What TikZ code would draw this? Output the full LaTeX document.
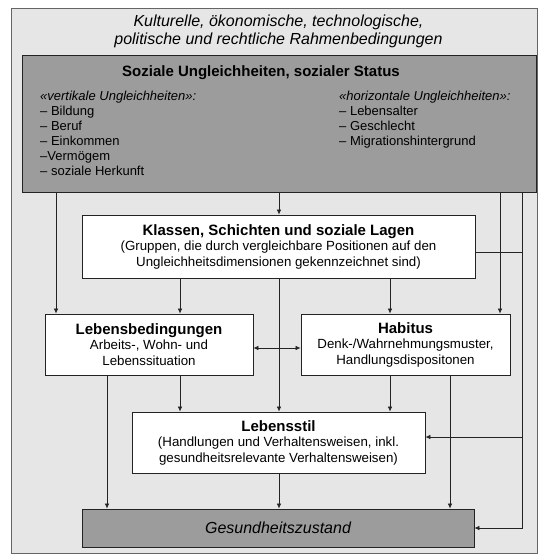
\documentclass[tikz,border=0pt]{standalone}
\usepackage{fontspec}
\setmainfont{Liberation Sans}
\usetikzlibrary{arrows.meta}
\definecolor{bgc}{RGB}{230,230,230}
\definecolor{dkc}{RGB}{156,156,156}
\definecolor{lnc}{RGB}{35,35,35}
\begin{document}
\begin{tikzpicture}[x=1pt,y=-1pt,
  frame/.style={draw=lnc!70, line width=0.8pt, fill=bgc, inner sep=0pt},
  box/.style={draw=lnc, line width=0.8pt, fill=white, align=center, inner sep=0pt,
    font=\fontsize{13.3}{15.5}\selectfont},
  boxtitle/.style={},
  darkbox/.style={draw=lnc, line width=0.8pt, fill=dkc, inner sep=0pt},
  wire/.style={draw=lnc, line width=0.75pt},
  arr/.style={wire, -{Latex[length=5pt,width=4.5pt]}},
  arrtwo/.style={wire, {Latex[length=5pt,width=4.5pt]}-{Latex[length=5pt,width=4.5pt]}},
  col/.style={anchor=north west, align=left, inner sep=0pt, font=\fontsize{13}{15}\selectfont}
]
\useasboundingbox (0,0) rectangle (539,557);

% frame and title
\node[frame, minimum width=526pt, minimum height=545pt] (frm) at (274,280.5) {};
\node[align=center, inner sep=0pt, font=\itshape\fontsize{16}{18}\selectfont] (ttl) at (278.5,31)
  {Kulturelle, ökonomische, technologische,\\politische und rechtliche Rahmenbedingungen};

% top box
\node[darkbox, minimum width=514pt, minimum height=137pt] (soz) at (279,123.5) {};
\node[inner sep=0pt, font=\bfseries\fontsize{15}{17}\selectfont] (sozt) at (261,73)
  {Soziale Ungleichheiten, sozialer Status};
\node[col] (vert) at (40,90.5)
  {\textit{«vertikale Ungleichheiten»:}\\– Bildung\\– Beruf\\– Einkommen\\–Vermögem\\– soziale Herkunft};
\node[col] (hori) at (339,90.5)
  {\textit{«horizontale Ungleichheiten»:}\\– Lebensalter\\– Geschlecht\\– Migrationshintergrund};

% boxes
\node[box, minimum width=393pt, minimum height=63pt] (kla) at (278.5,246.5)
  {{\bfseries\fontsize{15}{15.5}\selectfont Klassen, Schichten und soziale Lagen}\\
   (Gruppen, die durch vergleichbare Positionen auf den\\
   Ungleichheitsdimensionen gekennzeichnet sind)};
\node[box, minimum width=208pt, minimum height=61pt] (leb) at (149,344.5)
  {{\bfseries\fontsize{15}{15.5}\selectfont Lebensbedingungen}\\
   Arbeits-, Wohn- und\\Lebenssituation};
\node[box, minimum width=209pt, minimum height=61pt] (hab) at (405.5,344.5)
  {{\bfseries\fontsize{15}{15.5}\selectfont Habitus}\\
   Denk-/Wahrnehmungsmuster,\\Handlungsdispositonen};
\node[box, minimum width=293pt, minimum height=61pt] (sti) at (278.5,442.5)
  {{\bfseries\fontsize{15}{15.5}\selectfont Lebensstil}\\
   (Handlungen und Verhaltensweisen, inkl.\\
   gesundheitsrelevante Verhaltensweisen)};
\node[darkbox, minimum width=392pt, minimum height=38pt,
  font=\itshape\fontsize{16}{18}\selectfont] (ges) at (278,528) {Gesundheitszustand};

% helper coordinates
\coordinate (xa) at (56,0);
\coordinate (xb) at (107,0);
\coordinate (xc) at (180,0);
\coordinate (xm) at (279,0);
\coordinate (xd) at (390,0);
\coordinate (xe) at (450,0);
\coordinate (xf) at (500,0);
\coordinate (xr) at (522,0);
\coordinate (yk) at (0,252);
\coordinate (yd) at (0,348);
\coordinate (yl) at (0,437);

% connectors from top box
\draw[arr] (soz.south -| xm) -- (kla.north -| xm);
\draw[arr] (soz.south -| xa) -- (leb.north -| xa);
\draw[arr] (soz.south -| xf) -- (hab.north -| xf);
\draw[arr] (soz.south -| xr) -- (ges.east -| xr) -- (ges.east);
\draw[arr] (xr |- yl) -- (sti.east |- yl);
\draw[wire] (kla.east |- yk) -- (xr |- yk);

% from Klassen
\draw[arr] (kla.south -| xc) -- (leb.north -| xc);
\draw[arr] (kla.south -| xd) -- (hab.north -| xd);
\draw[arr] (kla.south -| xm) -- (sti.north -| xm);

% between Lebensbedingungen and Habitus
\draw[arrtwo] (leb.east |- yd) -- (hab.west |- yd);

% from Lebensbedingungen and Habitus
\draw[arr] (leb.south -| xb) -- (ges.north -| xb);
\draw[arr] (leb.south -| xc) -- (sti.north -| xc);
\draw[arr] (hab.south -| xd) -- (sti.north -| xd);
\draw[arr] (hab.south -| xe) -- (ges.north -| xe);

% from Lebensstil
\draw[arr] (sti.south -| xm) -- (ges.north -| xm);
\end{tikzpicture}
\end{document}
